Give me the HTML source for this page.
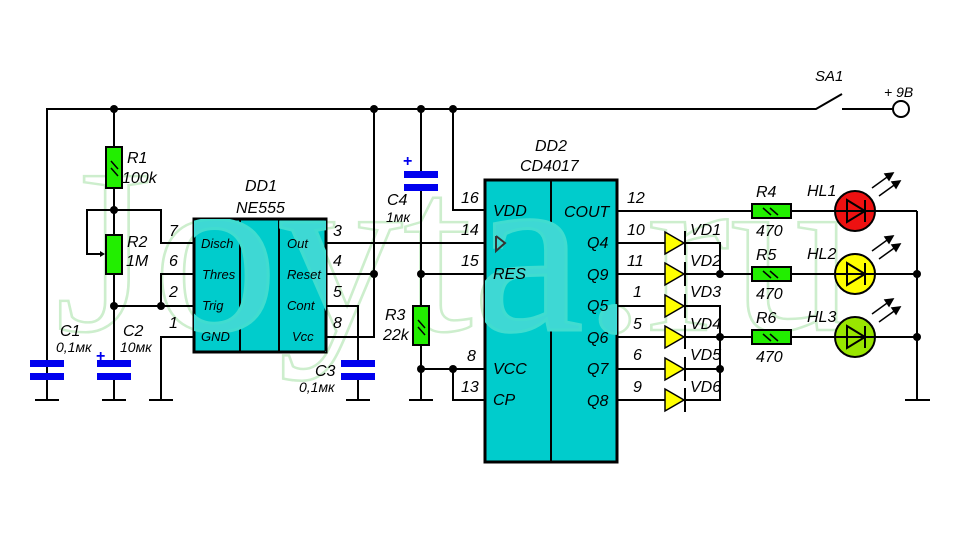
<!DOCTYPE html>
<html><head><meta charset="utf-8"><style>
html,body{margin:0;padding:0;background:#fff;}
svg{display:block;}
text{font-family:"Liberation Sans",sans-serif;font-style:italic;fill:#000;}
</style></head><body>
<svg width="961" height="533" viewBox="0 0 961 533" xmlns="http://www.w3.org/2000/svg">
<defs>
<clipPath id="ic"><rect x="194" y="219" width="132" height="133"/><rect x="485" y="180" width="132" height="282"/></clipPath>
</defs>
<rect width="961" height="533" fill="#fff"/>
<text x="55" y="330" font-size="235" textLength="800" lengthAdjust="spacingAndGlyphs" style="font-family:'Liberation Serif',serif;font-style:normal;fill:none;stroke:#cdeecd;stroke-width:2.5">Joyta.ru</text>

<rect x="194" y="219" width="132" height="133" fill="#00cccc" stroke="#000" stroke-width="3"/>
<line x1="240" y1="219" x2="240" y2="352" stroke="#000" stroke-width="2"/>
<line x1="279" y1="219" x2="279" y2="352" stroke="#000" stroke-width="2"/>
<rect x="485" y="180" width="132" height="282" fill="#00cccc" stroke="#000" stroke-width="3"/>
<line x1="551" y1="180" x2="551" y2="462" stroke="#000" stroke-width="2"/>
<text x="55" y="330" font-size="235" textLength="800" lengthAdjust="spacingAndGlyphs" clip-path="url(#ic)" style="font-family:'Liberation Serif',serif;font-style:normal;fill:#3ed8d4;stroke:#40dcd0;stroke-width:3">Joyta.ru</text>

<g stroke="#000" stroke-width="2" fill="none">
<polyline points="47,390 47,109 816,109 842,94"/>
<line x1="842" y1="109" x2="893" y2="109"/>
<line x1="114" y1="109" x2="114" y2="360"/>
<polyline points="114,210 87,210 87,254 100,254"/>
<polyline points="114,210 161,210 161,243 194,243"/>
<polyline points="194,274 161,274 161,306"/>
<line x1="114" y1="306" x2="194" y2="306"/>
<polyline points="194,337 161,337 161,400"/>
<line x1="149" y1="400" x2="173" y2="400"/>
<line x1="47" y1="380" x2="47" y2="400"/><line x1="35" y1="400" x2="59" y2="400"/>
<line x1="114" y1="380" x2="114" y2="400"/><line x1="102" y1="400" x2="126" y2="400"/>
<line x1="326" y1="243" x2="485" y2="243"/>
<line x1="326" y1="274" x2="374" y2="274"/>
<polyline points="326,306 358,306 358,360"/>
<line x1="358" y1="380" x2="358" y2="400"/><line x1="346" y1="400" x2="370" y2="400"/>
<polyline points="326,337 374,337 374,109"/>
<line x1="421" y1="109" x2="421" y2="171"/>
<line x1="421" y1="191" x2="421" y2="400"/>
<line x1="409" y1="400" x2="433" y2="400"/>
<line x1="421" y1="274" x2="485" y2="274"/>
<line x1="421" y1="369" x2="485" y2="369"/>
<polyline points="453,369 453,400 485,400"/>
<polyline points="453,109 453,210 485,210"/>
<line x1="617" y1="211" x2="752" y2="211"/>
<line x1="791" y1="211" x2="917" y2="211"/>
<line x1="617" y1="243" x2="665" y2="243"/>
<line x1="617" y1="274" x2="665" y2="274"/>
<line x1="617" y1="306" x2="665" y2="306"/>
<line x1="617" y1="337" x2="665" y2="337"/>
<line x1="617" y1="369" x2="665" y2="369"/>
<line x1="617" y1="400" x2="665" y2="400"/>
<polyline points="685,243 720,243 720,274"/>
<line x1="685" y1="274" x2="752" y2="274"/>
<polyline points="685,306 720,306 720,400 685,400"/>
<line x1="685" y1="337" x2="752" y2="337"/>
<line x1="685" y1="369" x2="720" y2="369"/>
<line x1="791" y1="274" x2="917" y2="274"/>
<line x1="791" y1="337" x2="917" y2="337"/>
<line x1="917" y1="211" x2="917" y2="400"/>
<line x1="905" y1="400" x2="930" y2="400"/>
</g>
<circle cx="901" cy="109" r="8" fill="#fff" stroke="#000" stroke-width="2"/>

<g fill="#000">
<circle cx="114" cy="109" r="4"/><circle cx="374" cy="109" r="4"/><circle cx="421" cy="109" r="4"/><circle cx="453" cy="109" r="4"/>
<circle cx="114" cy="210" r="4"/><circle cx="114" cy="306" r="4"/><circle cx="161" cy="306" r="4"/>
<circle cx="374" cy="274" r="4"/><circle cx="421" cy="274" r="4"/><circle cx="421" cy="369" r="4"/><circle cx="453" cy="369" r="4"/>
<circle cx="720" cy="274" r="4"/><circle cx="720" cy="337" r="4"/><circle cx="720" cy="369" r="4"/>
<circle cx="917" cy="274" r="4"/><circle cx="917" cy="337" r="4"/>
</g>

<g fill="#0000ee">
<rect x="30" y="360" width="34" height="7"/><rect x="30" y="373" width="34" height="7"/>
<rect x="97" y="360" width="34" height="7"/><rect x="97" y="373" width="34" height="7"/>
<rect x="341" y="360" width="34" height="7"/><rect x="341" y="373" width="34" height="7"/>
<rect x="404" y="171" width="34" height="7"/><rect x="404" y="184" width="34" height="7"/>
</g>
<text x="96" y="361" font-size="16" style="font-style:normal;fill:#0000ee;font-weight:bold">+</text>
<text x="403" y="166" font-size="16" style="font-style:normal;fill:#0000ee;font-weight:bold">+</text>

<g fill="#22ee00" stroke="#000" stroke-width="2">
<rect x="106" y="147" width="16" height="41"/>
<rect x="106" y="235" width="16" height="39"/>
<rect x="413" y="306" width="16" height="39"/>
<rect x="752" y="204" width="39" height="14"/>
<rect x="752" y="267" width="39" height="14"/>
<rect x="752" y="330" width="39" height="14"/>
</g>
<g stroke="#000" stroke-width="1.5">
<line x1="111" y1="161" x2="118" y2="169"/><line x1="111" y1="168" x2="118" y2="176"/>
<line x1="418" y1="320" x2="425" y2="328"/><line x1="418" y1="327" x2="425" y2="335"/>
<line x1="763" y1="208" x2="771" y2="215"/><line x1="770" y1="208" x2="778" y2="215"/>
<line x1="763" y1="271" x2="771" y2="278"/><line x1="770" y1="271" x2="778" y2="278"/>
<line x1="763" y1="334" x2="771" y2="341"/><line x1="770" y1="334" x2="778" y2="341"/>
</g>
<polygon points="100,251 105,254 100,257" fill="#000"/>

<g fill="#ffff00" stroke="#000" stroke-width="1.5">
<polygon points="665,232 684,243 665,254"/>
<polygon points="665,263 684,274 665,285"/>
<polygon points="665,295 684,306 665,317"/>
<polygon points="665,326 684,337 665,348"/>
<polygon points="665,358 684,369 665,380"/>
<polygon points="665,389 684,400 665,411"/>
</g>
<g stroke="#000" stroke-width="2">
<line x1="685" y1="231" x2="685" y2="255"/><line x1="685" y1="262" x2="685" y2="286"/>
<line x1="685" y1="294" x2="685" y2="318"/><line x1="685" y1="325" x2="685" y2="349"/>
<line x1="685" y1="357" x2="685" y2="381"/><line x1="685" y1="388" x2="685" y2="412"/>
</g>

<g stroke="#000" stroke-width="2">
<circle cx="855" cy="211" r="20" fill="#ee1111"/>
<circle cx="855" cy="274" r="20" fill="#ffff00"/>
<circle cx="855" cy="337" r="20" fill="#99e600"/>
</g>
<g fill="none" stroke="#000" stroke-width="2">
<line x1="835" y1="211" x2="875" y2="211"/><polygon points="847,200 865,211 847,222"/><line x1="865" y1="200" x2="865" y2="222"/>
<line x1="835" y1="274" x2="875" y2="274"/><polygon points="847,263 865,274 847,285"/><line x1="865" y1="263" x2="865" y2="285"/>
<line x1="835" y1="337" x2="875" y2="337"/><polygon points="847,326 865,337 847,348"/><line x1="865" y1="326" x2="865" y2="348"/>
</g>
<g stroke="#000" stroke-width="1.5" fill="#000">
<line x1="872" y1="188" x2="890" y2="175"/><polygon points="893,173 885,174 889,180"/>
<line x1="879" y1="196" x2="897" y2="183"/><polygon points="900,181 892,182 896,188"/>
<line x1="872" y1="251" x2="890" y2="238"/><polygon points="893,236 885,237 889,243"/>
<line x1="879" y1="259" x2="897" y2="246"/><polygon points="900,244 892,245 896,251"/>
<line x1="872" y1="314" x2="890" y2="301"/><polygon points="893,299 885,300 889,306"/>
<line x1="879" y1="322" x2="897" y2="309"/><polygon points="900,307 892,308 896,314"/>
</g>
<polyline points="496,236 505,243 496,251 496,236" fill="none" stroke="#333" stroke-width="2"/>

<g font-size="16">
<text x="815" y="81" font-size="15">SA1</text>
<text x="884" y="97" font-size="14">+ 9В</text>
<text x="127" y="163">R1</text><text x="122" y="183">100k</text>
<text x="127" y="247">R2</text><text x="126" y="266">1M</text>
<text x="60" y="336">C1</text><text x="56" y="352" font-size="14">0,1мк</text>
<text x="123" y="336">C2</text><text x="120" y="352" font-size="14">10мк</text>
<text x="245" y="191">DD1</text><text x="236" y="213">NE555</text>
<text x="169" y="236">7</text><text x="169" y="266">6</text><text x="169" y="297">2</text><text x="169" y="328">1</text>
<text x="333" y="236">3</text><text x="333" y="266">4</text><text x="333" y="297">5</text><text x="333" y="328">8</text>
<text x="201" y="248" font-size="13">Disch</text><text x="202" y="279" font-size="13">Thres</text>
<text x="202" y="310" font-size="13">Trig</text><text x="201" y="341" font-size="13">GND</text>
<text x="287" y="248" font-size="13">Out</text><text x="287" y="279" font-size="13">Reset</text>
<text x="287" y="310" font-size="13">Cont</text><text x="292" y="341" font-size="13">Vcc</text>
<text x="315" y="376">C3</text><text x="299" y="392" font-size="14">0,1мк</text>
<text x="387" y="205">C4</text><text x="386" y="222" font-size="14">1мк</text>
<text x="385" y="320">R3</text><text x="383" y="340">22k</text>
<text x="535" y="151">DD2</text><text x="520" y="171">CD4017</text>
<text x="461" y="203">16</text><text x="461" y="235">14</text><text x="461" y="266">15</text>
<text x="467" y="361">8</text><text x="461" y="392">13</text>
<text x="493" y="216">VDD</text><text x="493" y="279">RES</text><text x="493" y="374">VCC</text><text x="493" y="405">CP</text>
<text x="564" y="217">COUT</text><text x="587" y="248">Q4</text><text x="587" y="280">Q9</text>
<text x="587" y="311">Q5</text><text x="587" y="343">Q6</text><text x="587" y="374">Q7</text><text x="587" y="406">Q8</text>
<text x="627" y="203">12</text><text x="627" y="235">10</text><text x="627" y="266">11</text>
<text x="633" y="297">1</text><text x="633" y="329">5</text><text x="633" y="360">6</text><text x="633" y="392">9</text>
<text x="690" y="235">VD1</text><text x="690" y="266">VD2</text><text x="690" y="297">VD3</text>
<text x="690" y="329">VD4</text><text x="690" y="360">VD5</text><text x="690" y="392">VD6</text>
<text x="756" y="197">R4</text><text x="756" y="236">470</text>
<text x="756" y="260">R5</text><text x="756" y="299">470</text>
<text x="756" y="323">R6</text><text x="756" y="362">470</text>
<text x="807" y="196">HL1</text><text x="807" y="259">HL2</text><text x="807" y="322">HL3</text>
</g>
</svg>
</body></html>
